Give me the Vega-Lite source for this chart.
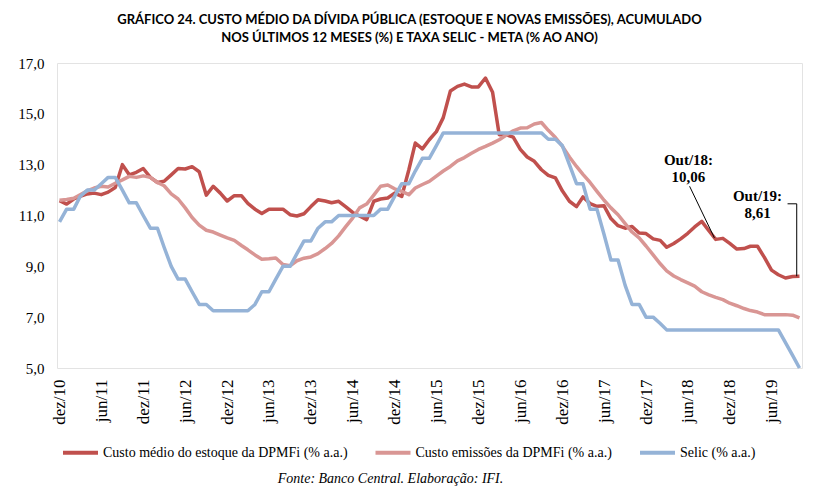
{
  "$schema": "https://vega.github.io/schema/vega-lite/v6.json",
  "width": 745,
  "height": 305,
  "autosize": "none",
  "padding": {"left": 57, "top": 63, "right": 18, "bottom": 133},
  "background": "white",
  "title": {
    "text": ["GRÁFICO 24. CUSTO MÉDIO DA DÍVIDA PÚBLICA (ESTOQUE E NOVAS EMISSÕES), ACUMULADO", "NOS ÚLTIMOS 12 MESES (%) E TAXA SELIC - META (% AO ANO)"],
    "font": "Lato",
    "fontSize": 13,
    "fontWeight": "bold",
    "color": "black",
    "lineHeight": 18.5,
    "anchor": "middle",
    "dx": -20,
    "offset": 11
  },
  "data": {
    "values": [
      {"d": "2010-12-01", "estoque": 11.58, "emissoes": 11.6, "selic": 10.75},
      {"d": "2011-01-01", "estoque": 11.45, "emissoes": 11.63, "selic": 11.25},
      {"d": "2011-02-01", "estoque": 11.65, "emissoes": 11.68, "selic": 11.25},
      {"d": "2011-03-01", "estoque": 11.75, "emissoes": 11.82, "selic": 11.75},
      {"d": "2011-04-01", "estoque": 11.85, "emissoes": 11.97, "selic": 12},
      {"d": "2011-05-01", "estoque": 11.88, "emissoes": 12.08, "selic": 12},
      {"d": "2011-06-01", "estoque": 11.82, "emissoes": 12.15, "selic": 12.25},
      {"d": "2011-07-01", "estoque": 11.92, "emissoes": 12.12, "selic": 12.5},
      {"d": "2011-08-01", "estoque": 12.1, "emissoes": 12.27, "selic": 12.5},
      {"d": "2011-09-01", "estoque": 13.0, "emissoes": 12.4, "selic": 12},
      {"d": "2011-10-01", "estoque": 12.6, "emissoes": 12.54, "selic": 11.5},
      {"d": "2011-11-01", "estoque": 12.7, "emissoes": 12.5, "selic": 11.5},
      {"d": "2011-12-01", "estoque": 12.85, "emissoes": 12.56, "selic": 11},
      {"d": "2012-01-01", "estoque": 12.5, "emissoes": 12.5, "selic": 10.5},
      {"d": "2012-02-01", "estoque": 12.3, "emissoes": 12.3, "selic": 10.5},
      {"d": "2012-03-01", "estoque": 12.35, "emissoes": 12.17, "selic": 9.75},
      {"d": "2012-04-01", "estoque": 12.6, "emissoes": 11.85, "selic": 9},
      {"d": "2012-05-01", "estoque": 12.85, "emissoes": 11.65, "selic": 8.5},
      {"d": "2012-06-01", "estoque": 12.83, "emissoes": 11.3, "selic": 8.5},
      {"d": "2012-07-01", "estoque": 12.92, "emissoes": 10.92, "selic": 8},
      {"d": "2012-08-01", "estoque": 12.72, "emissoes": 10.62, "selic": 7.5},
      {"d": "2012-09-01", "estoque": 11.8, "emissoes": 10.42, "selic": 7.5},
      {"d": "2012-10-01", "estoque": 12.15, "emissoes": 10.35, "selic": 7.25},
      {"d": "2012-11-01", "estoque": 11.88, "emissoes": 10.23, "selic": 7.25},
      {"d": "2012-12-01", "estoque": 11.57, "emissoes": 10.12, "selic": 7.25},
      {"d": "2013-01-01", "estoque": 11.78, "emissoes": 10.02, "selic": 7.25},
      {"d": "2013-02-01", "estoque": 11.78, "emissoes": 9.82, "selic": 7.25},
      {"d": "2013-03-01", "estoque": 11.48, "emissoes": 9.65, "selic": 7.25},
      {"d": "2013-04-01", "estoque": 11.25, "emissoes": 9.45, "selic": 7.5},
      {"d": "2013-05-01", "estoque": 11.08, "emissoes": 9.28, "selic": 8},
      {"d": "2013-06-01", "estoque": 11.25, "emissoes": 9.3, "selic": 8},
      {"d": "2013-07-01", "estoque": 11.25, "emissoes": 9.33, "selic": 8.5},
      {"d": "2013-08-01", "estoque": 11.25, "emissoes": 9.07, "selic": 9},
      {"d": "2013-09-01", "estoque": 11.03, "emissoes": 9.02, "selic": 9},
      {"d": "2013-10-01", "estoque": 10.98, "emissoes": 9.22, "selic": 9.5},
      {"d": "2013-11-01", "estoque": 11.07, "emissoes": 9.32, "selic": 10},
      {"d": "2013-12-01", "estoque": 11.35, "emissoes": 9.37, "selic": 10},
      {"d": "2014-01-01", "estoque": 11.62, "emissoes": 9.5, "selic": 10.5},
      {"d": "2014-02-01", "estoque": 11.57, "emissoes": 9.7, "selic": 10.75},
      {"d": "2014-03-01", "estoque": 11.5, "emissoes": 9.9, "selic": 10.75},
      {"d": "2014-04-01", "estoque": 11.56, "emissoes": 10.2, "selic": 11},
      {"d": "2014-05-01", "estoque": 11.35, "emissoes": 10.55, "selic": 11},
      {"d": "2014-06-01", "estoque": 11.12, "emissoes": 10.9, "selic": 11},
      {"d": "2014-07-01", "estoque": 10.98, "emissoes": 11.3, "selic": 11},
      {"d": "2014-08-01", "estoque": 10.84, "emissoes": 11.45, "selic": 11},
      {"d": "2014-09-01", "estoque": 11.56, "emissoes": 11.8, "selic": 11},
      {"d": "2014-10-01", "estoque": 11.65, "emissoes": 12.15, "selic": 11.25},
      {"d": "2014-11-01", "estoque": 11.69, "emissoes": 12.2, "selic": 11.25},
      {"d": "2014-12-01", "estoque": 11.88, "emissoes": 12.05, "selic": 11.75},
      {"d": "2015-01-01", "estoque": 11.75, "emissoes": 11.95, "selic": 12.25},
      {"d": "2015-02-01", "estoque": 12.8, "emissoes": 11.82, "selic": 12.25},
      {"d": "2015-03-01", "estoque": 13.85, "emissoes": 12.08, "selic": 12.75},
      {"d": "2015-04-01", "estoque": 13.62, "emissoes": 12.22, "selic": 13.25},
      {"d": "2015-05-01", "estoque": 13.98, "emissoes": 12.34, "selic": 13.25},
      {"d": "2015-06-01", "estoque": 14.3, "emissoes": 12.55, "selic": 13.75},
      {"d": "2015-07-01", "estoque": 14.85, "emissoes": 12.75, "selic": 14.25},
      {"d": "2015-08-01", "estoque": 15.9, "emissoes": 12.93, "selic": 14.25},
      {"d": "2015-09-01", "estoque": 16.08, "emissoes": 13.15, "selic": 14.25},
      {"d": "2015-10-01", "estoque": 16.17, "emissoes": 13.28, "selic": 14.25},
      {"d": "2015-11-01", "estoque": 16.06, "emissoes": 13.45, "selic": 14.25},
      {"d": "2015-12-01", "estoque": 16.06, "emissoes": 13.6, "selic": 14.25},
      {"d": "2016-01-01", "estoque": 16.41, "emissoes": 13.72, "selic": 14.25},
      {"d": "2016-02-01", "estoque": 15.85, "emissoes": 13.85, "selic": 14.25},
      {"d": "2016-03-01", "estoque": 14.18, "emissoes": 13.98, "selic": 14.25},
      {"d": "2016-04-01", "estoque": 14.18, "emissoes": 14.17, "selic": 14.25},
      {"d": "2016-05-01", "estoque": 14.08, "emissoes": 14.33, "selic": 14.25},
      {"d": "2016-06-01", "estoque": 13.6, "emissoes": 14.44, "selic": 14.25},
      {"d": "2016-07-01", "estoque": 13.3, "emissoes": 14.45, "selic": 14.25},
      {"d": "2016-08-01", "estoque": 13.13, "emissoes": 14.6, "selic": 14.25},
      {"d": "2016-09-01", "estoque": 12.8, "emissoes": 14.66, "selic": 14.25},
      {"d": "2016-10-01", "estoque": 12.58, "emissoes": 14.35, "selic": 14},
      {"d": "2016-11-01", "estoque": 12.48, "emissoes": 14.07, "selic": 14},
      {"d": "2016-12-01", "estoque": 11.97, "emissoes": 13.73, "selic": 13.75},
      {"d": "2017-01-01", "estoque": 11.56, "emissoes": 13.3, "selic": 13},
      {"d": "2017-02-01", "estoque": 11.35, "emissoes": 12.93, "selic": 12.25},
      {"d": "2017-03-01", "estoque": 11.73, "emissoes": 12.62, "selic": 12.25},
      {"d": "2017-04-01", "estoque": 11.47, "emissoes": 12.3, "selic": 11.25},
      {"d": "2017-05-01", "estoque": 11.36, "emissoes": 11.95, "selic": 11.25},
      {"d": "2017-06-01", "estoque": 11.38, "emissoes": 11.6, "selic": 10.25},
      {"d": "2017-07-01", "estoque": 10.88, "emissoes": 11.3, "selic": 9.25},
      {"d": "2017-08-01", "estoque": 10.6, "emissoes": 11.03, "selic": 9.25},
      {"d": "2017-09-01", "estoque": 10.5, "emissoes": 10.68, "selic": 8.25},
      {"d": "2017-10-01", "estoque": 10.57, "emissoes": 10.35, "selic": 7.5},
      {"d": "2017-11-01", "estoque": 10.31, "emissoes": 10.12, "selic": 7.5},
      {"d": "2017-12-01", "estoque": 10.29, "emissoes": 9.8, "selic": 7},
      {"d": "2018-01-01", "estoque": 10.08, "emissoes": 9.45, "selic": 7},
      {"d": "2018-02-01", "estoque": 10.02, "emissoes": 9.1, "selic": 6.75},
      {"d": "2018-03-01", "estoque": 9.75, "emissoes": 8.82, "selic": 6.5},
      {"d": "2018-04-01", "estoque": 9.9, "emissoes": 8.62, "selic": 6.5},
      {"d": "2018-05-01", "estoque": 10.08, "emissoes": 8.48, "selic": 6.5},
      {"d": "2018-06-01", "estoque": 10.3, "emissoes": 8.35, "selic": 6.5},
      {"d": "2018-07-01", "estoque": 10.55, "emissoes": 8.22, "selic": 6.5},
      {"d": "2018-08-01", "estoque": 10.77, "emissoes": 8.0, "selic": 6.5},
      {"d": "2018-09-01", "estoque": 10.4, "emissoes": 7.88, "selic": 6.5},
      {"d": "2018-10-01", "estoque": 10.06, "emissoes": 7.78, "selic": 6.5},
      {"d": "2018-11-01", "estoque": 10.1, "emissoes": 7.69, "selic": 6.5},
      {"d": "2018-12-01", "estoque": 9.9, "emissoes": 7.55, "selic": 6.5},
      {"d": "2019-01-01", "estoque": 9.68, "emissoes": 7.45, "selic": 6.5},
      {"d": "2019-02-01", "estoque": 9.7, "emissoes": 7.34, "selic": 6.5},
      {"d": "2019-03-01", "estoque": 9.79, "emissoes": 7.26, "selic": 6.5},
      {"d": "2019-04-01", "estoque": 9.79, "emissoes": 7.2, "selic": 6.5},
      {"d": "2019-05-01", "estoque": 9.35, "emissoes": 7.1, "selic": 6.5},
      {"d": "2019-06-01", "estoque": 8.85, "emissoes": 7.1, "selic": 6.5},
      {"d": "2019-07-01", "estoque": 8.67, "emissoes": 7.1, "selic": 6.5},
      {"d": "2019-08-01", "estoque": 8.54, "emissoes": 7.1, "selic": 6},
      {"d": "2019-09-01", "estoque": 8.6, "emissoes": 7.08, "selic": 5.5},
      {"d": "2019-10-01", "estoque": 8.61, "emissoes": 6.97, "selic": 5}
    ]
  },
  "layer": [
    {
      "transform": [{"fold": ["estoque", "emissoes", "selic"], "as": ["serie", "valor"]}],
      "mark": {"type": "line", "strokeWidth": 3.5, "strokeJoin": "round", "strokeCap": "butt"},
      "encoding": {
        "x": {
          "field": "d",
          "type": "temporal",
          "scale": {
            "type": "utc",
            "domain": [
              {"year": 2010, "month": 11, "date": 20, "utc": true},
              {"year": 2019, "month": 10, "date": 12, "utc": true}
            ]
          },
          "axis": {
            "values": [
              {"year": 2010, "month": 12, "date": 1, "utc": true},
              {"year": 2011, "month": 6, "date": 1, "utc": true},
              {"year": 2011, "month": 12, "date": 1, "utc": true},
              {"year": 2012, "month": 6, "date": 1, "utc": true},
              {"year": 2012, "month": 12, "date": 1, "utc": true},
              {"year": 2013, "month": 6, "date": 1, "utc": true},
              {"year": 2013, "month": 12, "date": 1, "utc": true},
              {"year": 2014, "month": 6, "date": 1, "utc": true},
              {"year": 2014, "month": 12, "date": 1, "utc": true},
              {"year": 2015, "month": 6, "date": 1, "utc": true},
              {"year": 2015, "month": 12, "date": 1, "utc": true},
              {"year": 2016, "month": 6, "date": 1, "utc": true},
              {"year": 2016, "month": 12, "date": 1, "utc": true},
              {"year": 2017, "month": 6, "date": 1, "utc": true},
              {"year": 2017, "month": 12, "date": 1, "utc": true},
              {"year": 2018, "month": 6, "date": 1, "utc": true},
              {"year": 2018, "month": 12, "date": 1, "utc": true},
              {"year": 2019, "month": 6, "date": 1, "utc": true}
            ],
            "labelExpr": "(utcmonth(datum.value) == 5 ? 'jun' : 'dez') + '/' + utcFormat(datum.value, '%y')",
            "labelAngle": -90,
            "labelAlign": "right",
            "labelBaseline": "middle",
            "labelPadding": 11,
            "labelFont": "Liberation Serif",
            "labelFontSize": 17,
            "labelColor": "black",
            "labelOverlap": false,
            "labelFlush": false,
            "ticks": false,
            "domain": false,
            "grid": false,
            "title": "Fonte: Banco Central. Elaboração: IFI.",
            "titleFont": "Liberation Serif",
            "titleFontStyle": "italic",
            "titleFontWeight": "normal",
            "titleFontSize": 14,
            "titleColor": "black",
            "titleAlign": "center",
            "titleBaseline": "middle",
            "titleAnchor": "start",
            "titleX": 333,
            "titleY": 110
          }
        },
        "y": {
          "field": "valor",
          "type": "quantitative",
          "scale": {"domain": [5, 17], "nice": false, "zero": false},
          "axis": {
            "values": [5, 7, 9, 11, 13, 15, 17],
            "labelExpr": "replace(format(datum.value, '.1f'), '.', ',')",
            "labelFont": "Liberation Serif",
            "labelFontSize": 15,
            "labelColor": "black",
            "labelPadding": 13,
            "ticks": false,
            "domain": false,
            "grid": false,
            "title": null
          }
        },
        "color": {
          "field": "serie",
          "type": "nominal",
          "scale": {
            "domain": ["estoque", "emissoes", "selic"],
            "range": ["#c0504d", "#d99694", "#95b3d7"]
          },
          "legend": {
            "orient": "none",
            "legendX": 4,
            "legendY": 370,
            "direction": "horizontal",
            "title": null,
            "symbolType": "stroke",
            "symbolSize": 1225,
            "symbolStrokeWidth": 4,
            "labelOffset": 3,
            "columnPadding": 19.5,
            "labelFont": "Liberation Serif",
            "labelFontSize": 14,
            "labelColor": "black",
            "labelLimit": 400,
            "labelExpr": "datum.label == 'estoque' ? 'Custo médio do estoque da DPMFi (% a.a.)' : datum.label == 'emissoes' ? 'Custo emissões da DPMFi (% a.a.)' : 'Selic (% a.a.)'"
          }
        }
      }
    },
    {
      "data": {
        "values": [
          {"d": "2018-06-09", "v": 12.15, "d2": "2018-09-25", "v2": 10.12},
          {"d": "2019-08-10", "v": 11.46, "d2": "2019-09-19", "v2": 11.46},
          {"d": "2019-09-19", "v": 11.46, "d2": "2019-09-19", "v2": 8.61}
        ]
      },
      "mark": {"type": "rule", "color": "black", "strokeWidth": 1},
      "encoding": {
        "x": {"field": "d", "type": "temporal"},
        "x2": {"field": "d2"},
        "y": {"field": "v", "type": "quantitative"},
        "y2": {"field": "v2"}
      }
    },
    {
      "data": {
        "values": [
          {"d": "2018-06-04", "v": 13.19, "t": "Out/18:\n10,06"},
          {"d": "2019-04-01", "v": 11.75, "t": "Out/19:\n8,61"}
        ]
      },
      "mark": {
        "type": "text",
        "font": "Liberation Serif",
        "fontSize": 15,
        "fontWeight": "bold",
        "color": "black",
        "align": "center",
        "baseline": "middle",
        "lineBreak": "\n",
        "lineHeight": 17
      },
      "encoding": {
        "x": {"field": "d", "type": "temporal"},
        "y": {"field": "v", "type": "quantitative"},
        "text": {"field": "t"}
      }
    }
  ],
  "config": {
    "view": {"stroke": "#e3e3e3", "strokeWidth": 1}
  }
}
